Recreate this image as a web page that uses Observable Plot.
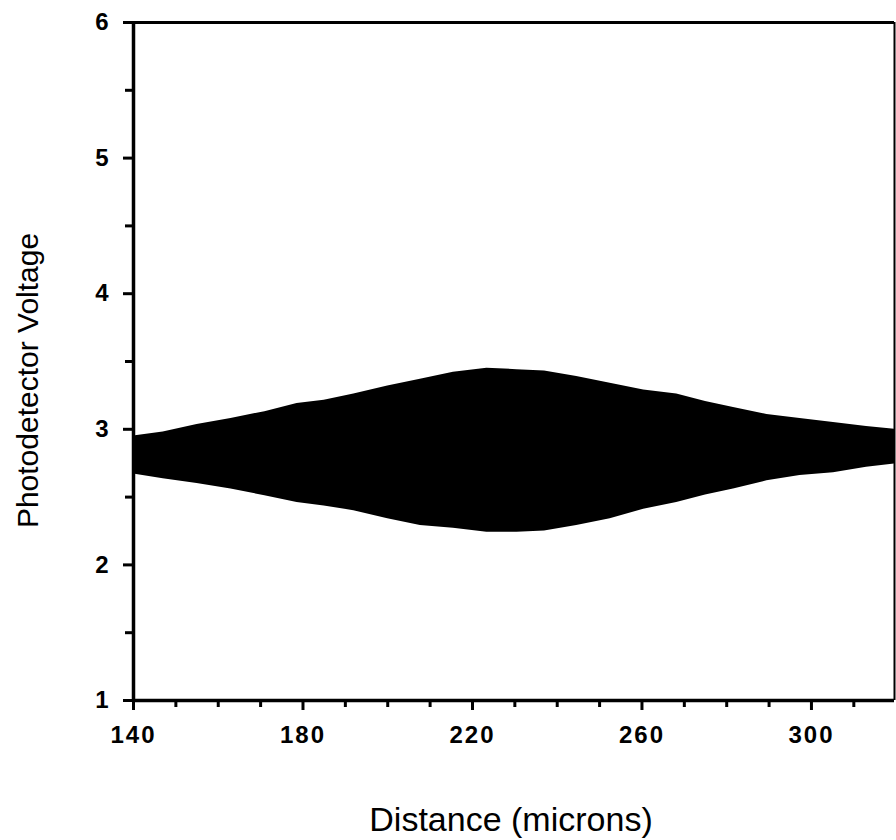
<!DOCTYPE html>
<html>
<head>
<meta charset="utf-8">
<script src="https://cdn.jsdelivr.net/npm/d3@7"></script>
<script src="https://cdn.jsdelivr.net/npm/@observablehq/plot@0.6"></script>
<style>
  html, body { margin: 0; padding: 0; background: #fff; }
  #chart svg { font-family: "Liberation Sans", Arial, Helvetica, sans-serif; }
  #chart g[aria-label="x-axis tick label"] { font-size: 24px; font-weight: bold; }
  #chart g[aria-label="y-axis tick label"] { font-size: 24px; font-weight: bold; }
  #chart g[aria-label="x-axis tick label"] text { letter-spacing: 2px; }
  #chart g[aria-label="x-axis tick"], #chart g[aria-label="y-axis tick"] { stroke-width: 3px; }
</style>
</head>
<body>
<div id="chart"></div>
<script>
// Distance (microns) sample positions along the scan
const distance = [140, 147, 155, 163, 171, 178.6, 185, 192, 200, 207.7, 215.5, 223.4, 230.5, 237, 244.6, 252.5, 260.4, 268.2, 275, 281.6, 289.5, 297.3, 305.2, 313, 319.6];
// Upper envelope of the fringe signal (V)
const upper = [2.95, 2.98, 3.035, 3.08, 3.13, 3.19, 3.215, 3.26, 3.32, 3.37, 3.42, 3.45, 3.44, 3.43, 3.39, 3.34, 3.29, 3.26, 3.205, 3.16, 3.11, 3.08, 3.05, 3.02, 3.00];
// Lower envelope of the fringe signal (V)
const lower = [2.67, 2.635, 2.60, 2.56, 2.51, 2.46, 2.435, 2.40, 2.34, 2.29, 2.27, 2.24, 2.24, 2.25, 2.29, 2.34, 2.41, 2.46, 2.515, 2.56, 2.62, 2.66, 2.68, 2.72, 2.745];

const xMajor = [140, 180, 220, 260, 300];
const xMinor = [150, 160, 170, 190, 200, 210, 230, 240, 250, 270, 280, 290, 310];
const yMajor = [1, 2, 3, 4, 5, 6];
const yMinor = [1.5, 2.5, 3.5, 4.5, 5.5];

const data = distance.map((d, i) => ({d, hi: upper[i], lo: lower[i]}));

const chart = Plot.plot({
  width: 896,
  height: 840,
  marginLeft: 133,
  marginRight: 2,
  marginTop: 22,
  marginBottom: 140,
  x: {domain: [140, 319.6]},
  y: {domain: [1, 6]},
  marks: [
    Plot.areaY(data, {x: "d", y1: "lo", y2: "hi", fill: "black", curve: "linear"}),
    Plot.axisX({ticks: xMajor, tickSize: 10, tickPadding: 15, fontSize: 24, label: null, tickFormat: d => String(d)}),
    Plot.axisX({ticks: xMinor, tickSize: 7, tickFormat: () => "", label: null}),
    Plot.axisY({ticks: yMajor, tickSize: 10, tickPadding: 15, fontSize: 24, label: null, tickFormat: d => String(d)}),
    Plot.axisY({ticks: yMinor, tickSize: 8, tickFormat: () => "", label: null}),
    Plot.ruleX([140], {stroke: "black", strokeWidth: 3.5}),
    Plot.ruleY([1], {stroke: "black", strokeWidth: 3.5}),
    Plot.ruleY([6], {stroke: "black", strokeWidth: 3}),
    Plot.ruleX([319.6], {stroke: "black", strokeWidth: 2}),
    Plot.text(["Photodetector Voltage"], {frameAnchor: "left", dx: -105, dy: 19, rotate: -90, fontSize: 30, textAnchor: "middle", lineAnchor: "middle", fill: "black"}),
    Plot.text(["Distance (microns)"], {frameAnchor: "bottom", dx: -3, dy: 120, fontSize: 34, textAnchor: "middle", lineAnchor: "middle", fill: "black", letterSpacing: "1px"})
  ]
});
document.getElementById("chart").appendChild(chart);
</script>
</body>
</html>
